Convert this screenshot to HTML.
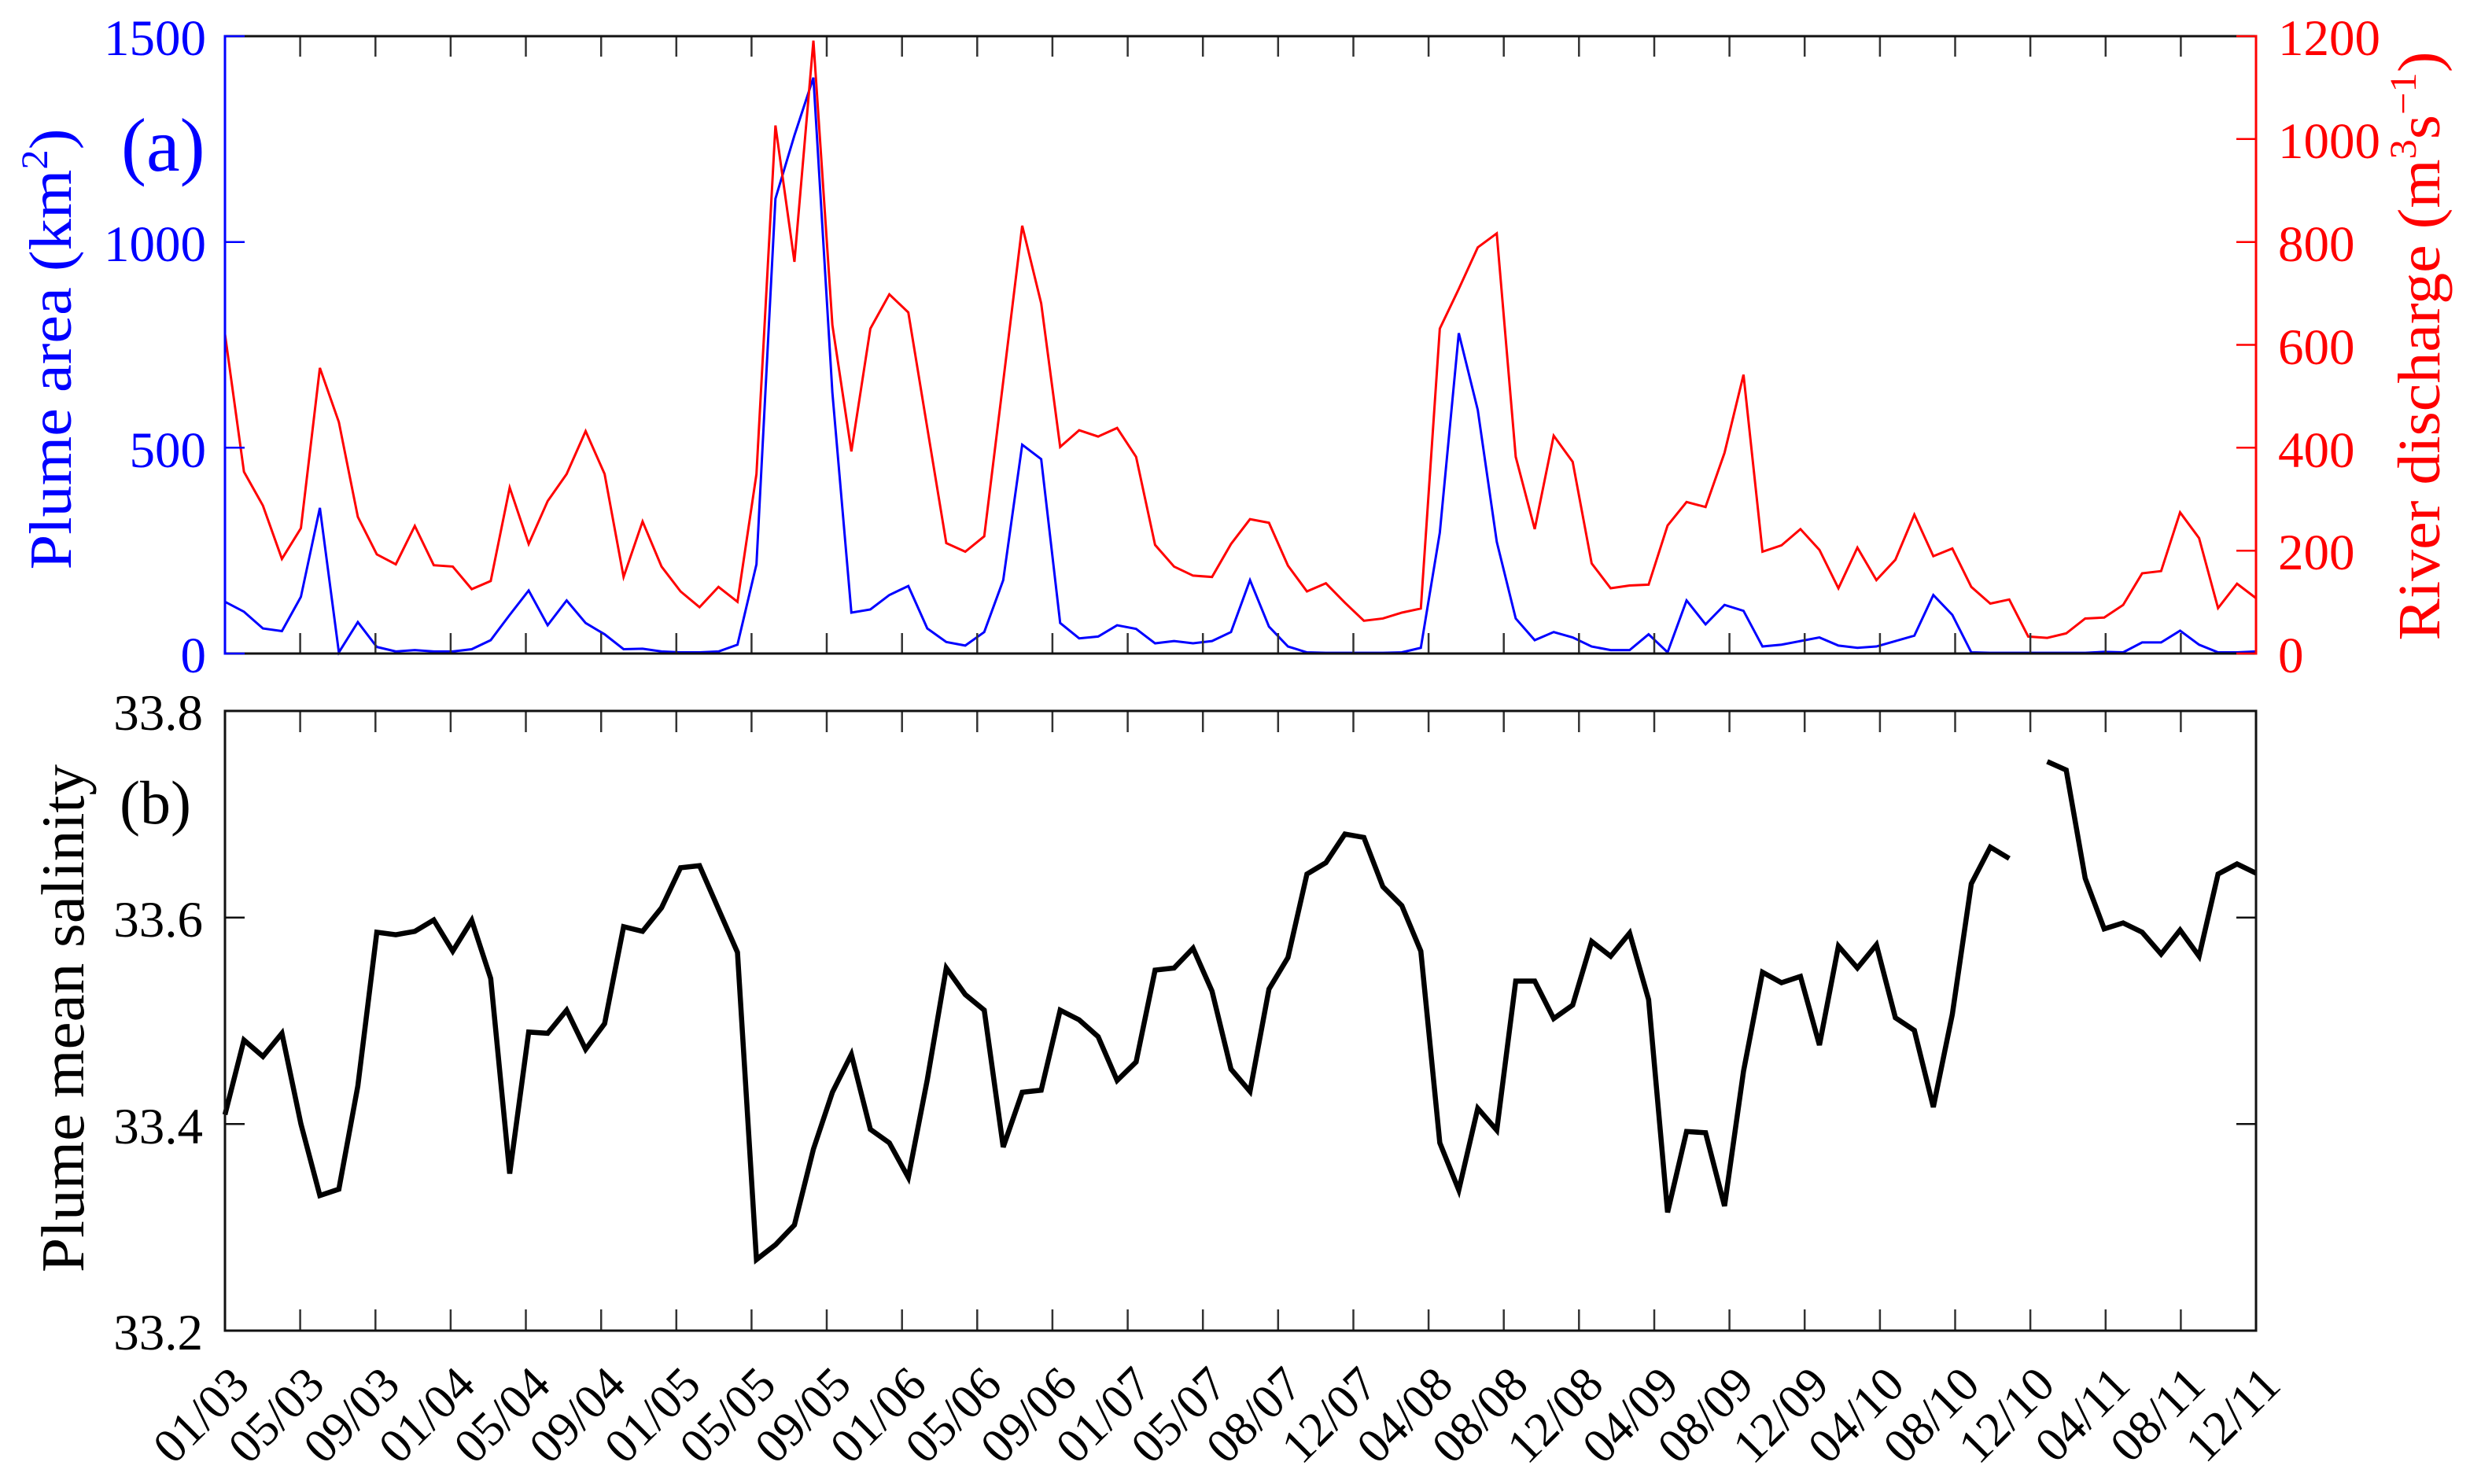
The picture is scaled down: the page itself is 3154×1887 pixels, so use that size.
<!DOCTYPE html>
<html>
<head>
<meta charset="utf-8">
<style>
html,body{margin:0;padding:0;background:#fff;}
svg{display:block;}
text{font-family:"Liberation Serif","Times New Roman",serif;}
</style>
</head>
<body>
<svg width="3154" height="1887" viewBox="0 0 3154 1887" xmlns="http://www.w3.org/2000/svg" font-family="'Liberation Serif', 'Times New Roman', serif">
<rect x="0" y="0" width="3154" height="1887" fill="#fff"/>

<!-- ===== Panel (a) series ===== -->
<g transform="translate(286,0) scale(24.1308,0.574053)" fill="none" stroke-linejoin="miter">
<polyline vector-effect="non-scaling-stroke" stroke="#0000ff" stroke-width="3" points="0,1333 1,1355 2,1392 3,1398 4,1322 5,1125 6,1445 7,1378 8,1433 9,1443 10,1440 11,1443 12,1443 13,1438 14,1418 15,1362 16,1308 17,1385 18,1330 19,1380 20,1405 21,1438 22,1437 23,1443 24,1445 25,1445 26,1443 27,1428 28,1250 29,440 30,300 31,172 32,870 33,1357 34,1350 35,1318 36,1298 37,1392 38,1422 39,1430 40,1400 41,1285 42,985 43,1017 44,1380 45,1414 46,1410 47,1385 48,1393 49,1425 50,1420 51,1425 52,1420 53,1400 54,1285 55,1388 56,1432 57,1445 58,1446 59,1446 60,1446 61,1446 62,1445 63,1435 64,1180 65,738 66,908 67,1200 68,1370 69,1418 70,1400 71,1412 72,1432 73,1440 74,1440 75,1405 76,1445 77,1330 78,1383 79,1340 80,1353 81,1432 82,1428 83,1420 84,1412 85,1430 86,1435 87,1432 88,1420 89,1408 90,1318 91,1362 92,1445 93,1446 94,1446 95,1446 96,1446 97,1446 98,1446 99,1444 100,1445 101,1423 102,1423 103,1397 104,1428 105,1445 106,1445 107,1443"/>
<polyline vector-effect="non-scaling-stroke" stroke="#ff0000" stroke-width="3" points="0,740 1,1045 2,1120 3,1238 4,1170 5,815 6,935 7,1145 8,1228 9,1250 10,1165 11,1252 12,1255 13,1305 14,1287 15,1080 16,1205 17,1110 18,1050 19,955 20,1050 21,1278 22,1155 23,1255 24,1310 25,1345 26,1300 27,1333 28,1050 29,278 30,580 31,90 32,720 33,1000 34,728 35,652 36,692 37,948 38,1203 39,1222 40,1188 41,845 42,500 43,672 44,990 45,953 46,967 47,948 48,1012 49,1207 50,1255 51,1275 52,1278 53,1205 54,1150 55,1158 56,1253 57,1310 58,1292 59,1335 60,1375 61,1370 62,1357 63,1348 64,728 65,640 66,548 67,517 68,1012 69,1172 70,965 71,1023 72,1248 73,1303 74,1297 75,1295 76,1164 77,1112 78,1123 79,1003 80,830 81,1222 82,1208 83,1172 84,1218 85,1303 86,1213 87,1285 88,1240 89,1140 90,1232 91,1215 92,1300 93,1337 94,1328 95,1410 96,1413 97,1403 98,1370 99,1368 100,1340 101,1270 102,1265 103,1135 104,1192 105,1347 106,1293 107,1325"/>
</g>

<!-- ===== Panel (b) series ===== -->
<g transform="translate(286,880) scale(24.1308,0.535714)" fill="none" stroke-linejoin="miter">
<polyline vector-effect="non-scaling-stroke" stroke="#000" stroke-width="6.5" points="0,1003 1,826 2,865 3,810 4,1025 5,1195 6,1180 7,935 8,570 9,576 10,568 11,541 12,615 13,542 14,680 15,1143 16,807 17,810 18,755 19,848 20,787 21,557 22,568 23,512 24,417 25,412 26,515 27,618 28,1347 29,1312 30,1265 31,1085 32,950 33,860 34,1038 35,1070 36,1152 37,920 38,655 39,718 40,755 41,1080 42,950 43,945 44,755 45,778 46,818 47,922 48,878 49,660 50,655 51,608 52,710 53,895 54,948 55,705 56,630 57,432 58,405 59,337 60,345 61,462 62,507 63,615 64,1070 65,1182 66,988 67,1040 68,686 69,686 70,775 71,743 72,592 73,627 74,572 75,730 76,1235 77,1043 78,1046 79,1220 80,900 81,665 82,690 83,675 84,838 85,603 86,655 87,600 88,773 89,803 90,985 91,765 92,455 93,368 94,395"/>
<polyline vector-effect="non-scaling-stroke" stroke="#000" stroke-width="6.5" points="96,165 97,185 98,442 99,562 100,548 101,570 102,622 103,565 104,627 105,432 106,408 107,430"/>
</g>

<!-- ===== X ticks (both panels) ===== -->
<path stroke="#333" stroke-width="2.5" fill="none" d="
M381.6 46v26M381.6 831v-26M381.6 904v27M381.6 1692v-27
M477.3 46v26M477.3 831v-26M477.3 904v27M477.3 1692v-27
M572.9 46v26M572.9 831v-26M572.9 904v27M572.9 1692v-27
M668.5 46v26M668.5 831v-26M668.5 904v27M668.5 1692v-27
M764.2 46v26M764.2 831v-26M764.2 904v27M764.2 1692v-27
M859.8 46v26M859.8 831v-26M859.8 904v27M859.8 1692v-27
M955.4 46v26M955.4 831v-26M955.4 904v27M955.4 1692v-27
M1051.0 46v26M1051.0 831v-26M1051.0 904v27M1051.0 1692v-27
M1146.7 46v26M1146.7 831v-26M1146.7 904v27M1146.7 1692v-27
M1242.3 46v26M1242.3 831v-26M1242.3 904v27M1242.3 1692v-27
M1337.9 46v26M1337.9 831v-26M1337.9 904v27M1337.9 1692v-27
M1433.6 46v26M1433.6 831v-26M1433.6 904v27M1433.6 1692v-27
M1529.2 46v26M1529.2 831v-26M1529.2 904v27M1529.2 1692v-27
M1624.8 46v26M1624.8 831v-26M1624.8 904v27M1624.8 1692v-27
M1720.5 46v26M1720.5 831v-26M1720.5 904v27M1720.5 1692v-27
M1816.1 46v26M1816.1 831v-26M1816.1 904v27M1816.1 1692v-27
M1911.7 46v26M1911.7 831v-26M1911.7 904v27M1911.7 1692v-27
M2007.3 46v26M2007.3 831v-26M2007.3 904v27M2007.3 1692v-27
M2103.0 46v26M2103.0 831v-26M2103.0 904v27M2103.0 1692v-27
M2198.6 46v26M2198.6 831v-26M2198.6 904v27M2198.6 1692v-27
M2294.2 46v26M2294.2 831v-26M2294.2 904v27M2294.2 1692v-27
M2389.9 46v26M2389.9 831v-26M2389.9 904v27M2389.9 1692v-27
M2485.5 46v26M2485.5 831v-26M2485.5 904v27M2485.5 1692v-27
M2581.1 46v26M2581.1 831v-26M2581.1 904v27M2581.1 1692v-27
M2676.8 46v26M2676.8 831v-26M2676.8 904v27M2676.8 1692v-27
M2772.4 46v26M2772.4 831v-26M2772.4 904v27M2772.4 1692v-27"/>

<!-- ===== Panel (a) axes ===== -->
<line x1="286" y1="46" x2="2868" y2="46" stroke="#111" stroke-width="3"/>
<line x1="286" y1="831" x2="2868" y2="831" stroke="#111" stroke-width="3"/>
<line x1="286" y1="44.5" x2="286" y2="832.5" stroke="#0000ff" stroke-width="3"/>
<line x1="2868" y1="44.5" x2="2868" y2="832.5" stroke="#ff0000" stroke-width="3"/>
<path stroke="#0000ff" stroke-width="2.5" d="M286 46h25M286 307.7h25M286 569.3h25M286 831h25"/>
<path stroke="#ff0000" stroke-width="2.5" d="M2868 46h-25M2868 176.8h-25M2868 307.7h-25M2868 438.5h-25M2868 569.3h-25M2868 700.2h-25M2868 831h-25"/>

<!-- ===== Panel (b) axes ===== -->
<rect x="286" y="904" width="2582" height="788" fill="none" stroke="#111" stroke-width="3"/>
<path stroke="#111" stroke-width="2.5" d="M286 1166.7h25M286 1429.3h25M2868 1166.7h-25M2868 1429.3h-25"/>

<!-- ===== Tick labels ===== -->
<g font-size="65" fill="#0000ff" text-anchor="end" font-family="'Liberation Serif', serif">
<text x="262" y="70">1500</text>
<text x="262" y="332">1000</text>
<text x="262" y="594">500</text>
<text x="262" y="855">0</text>
</g>
<g font-size="65" fill="#ff0000" text-anchor="start" font-family="'Liberation Serif', serif">
<text x="2896" y="70">1200</text>
<text x="2896" y="201">1000</text>
<text x="2896" y="332">800</text>
<text x="2896" y="463">600</text>
<text x="2896" y="594">400</text>
<text x="2896" y="724">200</text>
<text x="2896" y="855">0</text>
</g>
<g font-size="65" fill="#000" text-anchor="end" font-family="'Liberation Serif', serif">
<text x="258" y="928">33.8</text>
<text x="258" y="1191">33.6</text>
<text x="258" y="1454">33.4</text>
<text x="258" y="1716">33.2</text>
</g>

<!-- ===== Axis titles ===== -->
<text transform="translate(90,444) rotate(-90)" text-anchor="middle" font-size="76" fill="#0000ff" font-family="'Liberation Serif', serif" textLength="561" lengthAdjust="spacingAndGlyphs">Plume area (km<tspan font-size="48" dy="-30">2</tspan><tspan dy="30">)</tspan></text>
<text transform="translate(3101,440) rotate(-90)" text-anchor="middle" font-size="76" fill="#ff0000" font-family="'Liberation Serif', serif" textLength="749" lengthAdjust="spacingAndGlyphs">River discharge (m<tspan font-size="48" dy="-30">3</tspan><tspan dy="30">s</tspan><tspan font-size="48" dy="-30">−1</tspan><tspan dy="30">)</tspan></text>
<text transform="translate(106,1295) rotate(-90)" text-anchor="middle" font-size="77" fill="#000" font-family="'Liberation Serif', serif" textLength="646" lengthAdjust="spacingAndGlyphs">Plume mean salinity</text>

<!-- ===== Panel labels ===== -->
<text x="154" y="217" font-size="96" fill="#0000ff" font-family="'Liberation Serif', serif">(a)</text>
<text x="152" y="1047" font-size="78" fill="#000" font-family="'Liberation Serif', serif">(b)</text>

<!-- ===== X tick labels ===== -->
<g font-size="62" fill="#000" text-anchor="end" font-family="'Liberation Serif', serif">
<text transform="translate(320,1764) rotate(-45)">01/03</text>
<text transform="translate(415.6,1764) rotate(-45)">05/03</text>
<text transform="translate(511.3,1764) rotate(-45)">09/03</text>
<text transform="translate(606.9,1764) rotate(-45)">01/04</text>
<text transform="translate(702.5,1764) rotate(-45)">05/04</text>
<text transform="translate(798.2,1764) rotate(-45)">09/04</text>
<text transform="translate(893.8,1764) rotate(-45)">01/05</text>
<text transform="translate(989.4,1764) rotate(-45)">05/05</text>
<text transform="translate(1085,1764) rotate(-45)">09/05</text>
<text transform="translate(1180.7,1764) rotate(-45)">01/06</text>
<text transform="translate(1276.3,1764) rotate(-45)">05/06</text>
<text transform="translate(1371.9,1764) rotate(-45)">09/06</text>
<text transform="translate(1467.6,1764) rotate(-45)">01/07</text>
<text transform="translate(1563.2,1764) rotate(-45)">05/07</text>
<text transform="translate(1658.8,1764) rotate(-45)">08/07</text>
<text transform="translate(1754.5,1764) rotate(-45)">12/07</text>
<text transform="translate(1850.1,1764) rotate(-45)">04/08</text>
<text transform="translate(1945.7,1764) rotate(-45)">08/08</text>
<text transform="translate(2041.3,1764) rotate(-45)">12/08</text>
<text transform="translate(2137,1764) rotate(-45)">04/09</text>
<text transform="translate(2232.6,1764) rotate(-45)">08/09</text>
<text transform="translate(2328.2,1764) rotate(-45)">12/09</text>
<text transform="translate(2423.9,1764) rotate(-45)">04/10</text>
<text transform="translate(2519.5,1764) rotate(-45)">08/10</text>
<text transform="translate(2615.1,1764) rotate(-45)">12/10</text>
<text transform="translate(2710.8,1764) rotate(-45)">04/11</text>
<text transform="translate(2806.4,1764) rotate(-45)">08/11</text>
<text transform="translate(2902,1764) rotate(-45)">12/11</text>
</g>
</svg>
</body>
</html>
